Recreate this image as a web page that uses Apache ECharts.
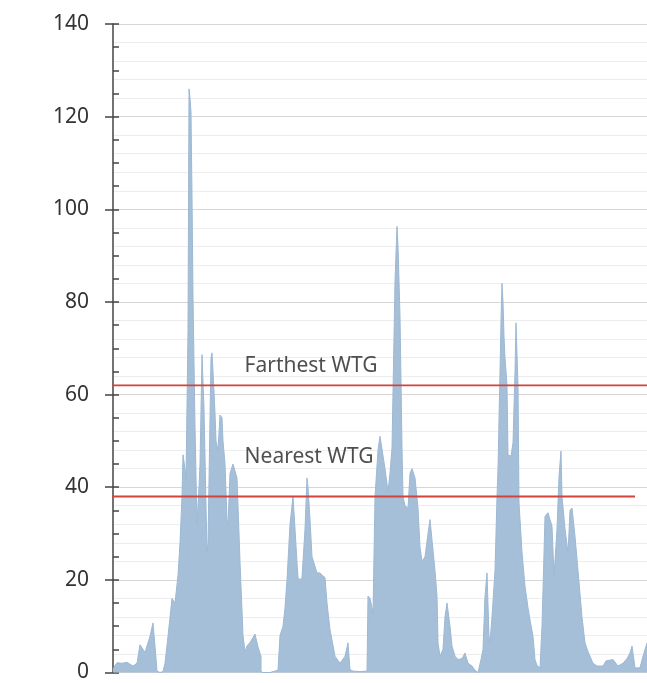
<!DOCTYPE html>
<html>
<head>
<meta charset="utf-8">
<script src="https://cdn.jsdelivr.net/npm/echarts@6/dist/echarts.min.js"></script>
<style>html,body{margin:0;padding:0;background:#fff;}#c{width:647px;height:683px;}</style>
</head>
<body>
<div id="c"></div>
<script>
// sample position (time index) and value
const sampleIdx = [0,2,4,9,14,17,20,24,27,30,32,34,37,40,42,44,47,50,52,55,59,62,65,67,69,70,72,73,75,76,77,78,79,80,82,84,86,87,89,91,93,94,95,97,98,99,100,102,103,105,107,109,110,112,114,115,117,120,122,124,127,130,132,134,137,139,142,145,148,148,149,150,157,165,167,170,172,174,177,180,182,184,185,187,189,192,194,195,197,199,200,204,207,209,212,214,217,222,227,232,235,237,240,247,254,255,257,259,260,262,265,267,269,272,275,277,279,282,284,285,287,289,290,292,295,297,299,302,305,307,309,312,315,317,319,322,324,325,327,330,332,334,335,337,339,342,345,349,352,355,359,362,365,368,370,372,374,376,377,379,382,384,385,387,388,389,390,391,392,394,395,398,400,402,403,405,406,409,412,415,417,420,422,424,427,429,432,435,437,439,441,444,446,448,449,452,455,457,459,462,465,469,472,475,477,480,484,490,493,495,500,505,510,514,517,519,522,527,530,534];
const speed = [0.6,1.5,2.1,2.0,2.2,1.8,1.4,2.0,6.0,5.0,4.3,4.2,7.8,10.7,5.7,0.3,0,0.2,2,7.8,16,15,21,28,38,47,44,41.5,74,126,124,121,103,81,53,32,40,45,68.6,57,36,26,28,55,68,69,65,56,50,48,55.6,55,50,45,33,32,43,45,45,42,24,8,4.5,5.7,6.5,7.2,8.3,5.5,3.5,0.5,0,0,0,0.5,8,10,14,20,32,38,31,23.7,20.5,20,20.5,31,42,40,33,25,25,21.5,21.5,21,20.5,15,9.3,3.5,2,3.5,6.4,0.6,0.3,0.2,0.3,16.5,16,14,12.5,38,48,51,51.4,44,39,43,48.5,84.5,96.3,92,77,48.5,38,36,35.5,43,44,42,35.5,27,24,25,30,33,33,22,16.5,6.4,3.5,5,12,15,15,10,5.7,3.5,2.8,3,4.2,2,1.4,0.5,0,2.8,5,16.5,21.5,7.8,6.4,12,22,38,44,65,76,84,80,72.6,68,62,47,46.7,49.6,65,75.5,62,36.6,26,18.6,14,11.4,7.8,2.8,1.5,1,10,33.7,34.5,33,31.6,20.8,31,42.4,47.8,38,31,25.8,35,35.5,29.4,22,12,6.4,4.5,3.5,2,1.4,1.4,2.5,2.8,2.8,1.4,2,3,4.2,5.7,1,1,3.5,6.4];
const yTicks = [0,20,40,60,80,100,120,140];
const refNames = ['Farthest WTG','Nearest WTG'];
const refLevels = [62,38];
const refStart = [-23,-35];
const refEnd = [534,522];

const chart = echarts.init(document.getElementById('c'));
const font = 'Noto Sans';
const areaData = sampleIdx.map((t,i)=>[t, speed[i]]);
const refSeries = refLevels.map((v,i)=>({
  type:'line', clip:false, silent:true, symbol:'none', z:5,
  lineStyle:{color:'#d2433d', width:1.8},
  data:[[refStart[i], v],[refEnd[i], v]]
}));
const labelSeries = {
  type:'scatter', symbolSize:0, silent:true, z:6,
  label:{show:true, formatter:p=>p.data[2], color:'#222', fontSize:21, fontFamily:font, position:'inside'},
  data:[[198, refLevels[0]+4.2, refNames[0]], [196, refLevels[1]+8.6, refNames[1]]]
};
chart.setOption({
  animation:false,
  backgroundColor:'#fff',
  grid:{left:113, right:0, top:24, bottom:10},
  xAxis:{type:'value', min:0, max:534, show:false},
  yAxis:[{
    type:'value', min:yTicks[0], max:yTicks[yTicks.length-1], interval:20,
    axisLine:{show:true, lineStyle:{color:'#444', width:1.5}},
    axisTick:{show:true, length:8, lineStyle:{color:'#444', width:1.5}},
    axisLabel:{color:'#333', fontSize:21, fontFamily:font, margin:24},
    splitLine:{show:true, lineStyle:{color:'#d6d6d6', width:1}},
    minorTick:{show:false},
    minorSplitLine:{show:true, lineStyle:{color:'#ededed', width:1}}
  },{
    type:'value', min:yTicks[0], max:yTicks[yTicks.length-1], interval:20, position:'left',
    axisLine:{show:false},
    axisTick:{show:true, inside:true, length:6, lineStyle:{color:'#444', width:1.5}},
    minorTick:{show:true, splitNumber:4, length:6, lineStyle:{color:'#444', width:1.5}},
    axisLabel:{show:false}, splitLine:{show:false}
  }],
  series:[{
    type:'line', symbol:'none', data:areaData, z:2,
    lineStyle:{color:'#9db8d4', width:1},
    areaStyle:{color:'#a6bfd8', opacity:1}
  }, ...refSeries, labelSeries]
});
</script>
</body>
</html>
